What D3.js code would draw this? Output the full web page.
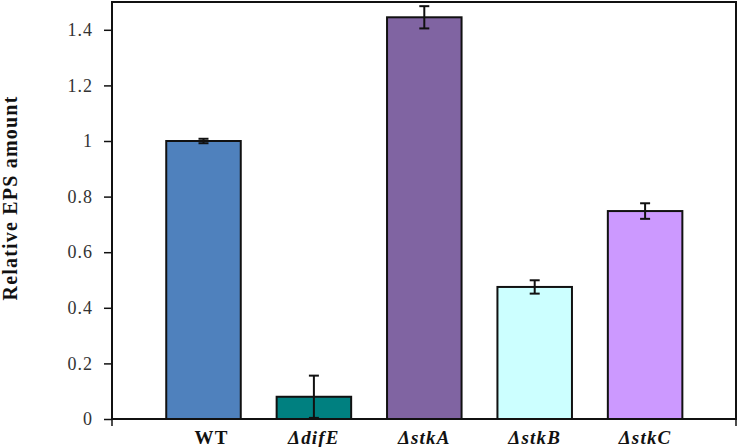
<!DOCTYPE html>
<html>
<head>
<meta charset="utf-8">
<script src="https://cdn.jsdelivr.net/npm/d3@7"></script>
<style>
  body { margin: 0; background: #fff; }
  svg { display: block; }
</style>
</head>
<body>
<div id="chart"></div>
<script>
// chart data
var strains = ["WT", "ΔdifE", "ΔstkA", "ΔstkB", "ΔstkC"];
var epsValues = [1.0, 0.08, 1.445, 0.475, 0.748];
var epsErrors = [0.008, 0.076, 0.04, 0.024, 0.028];
var barColors = ["#4f81bd", "#008080", "#8064a2", "#ccffff", "#cc99ff"];
var yTicks = [0, 0.2, 0.4, 0.6, 0.8, 1, 1.2, 1.4];

var svgWidth = 739;
var svgHeight = 447;

var plot = { left: 112, right: 736, top: 2, bottom: 419 };

var svg = d3.select("#chart")
  .append("svg")
  .attr("width", svgWidth)
  .attr("height", svgHeight);

var x = d3.scaleBand()
  .domain(strains)
  .range([148.3, 700.3])
  .paddingInner(0.325)
  .paddingOuter(0.1625);

var y = d3.scaleLinear()
  .domain([0, 1.5])
  .range([plot.bottom, plot.top]);

// bars
svg.append("g").selectAll("rect")
  .data(strains)
  .enter()
  .append("rect")
  .attr("x", d => x(d))
  .attr("y", (d, i) => y(epsValues[i]))
  .attr("width", x.bandwidth())
  .attr("height", (d, i) => y(0) - y(epsValues[i]))
  .attr("fill", (d, i) => barColors[i])
  .attr("stroke", "#111")
  .attr("stroke-width", 2);

// error bars
var errGroup = svg.append("g")
  .attr("stroke", "#111")
  .attr("stroke-width", 2);

strains.forEach(function(s, i) {
  var cx = x(s) + x.bandwidth() / 2;
  var hi = y(epsValues[i] + epsErrors[i]);
  var lo = y(Math.max(0, epsValues[i] - epsErrors[i]));
  errGroup.append("line")
    .attr("x1", cx).attr("x2", cx)
    .attr("y1", hi).attr("y2", i === 1 ? y(0) : lo);
  errGroup.append("line")
    .attr("x1", cx - 5).attr("x2", cx + 5)
    .attr("y1", hi).attr("y2", hi);
  errGroup.append("line")
    .attr("x1", cx - 5).attr("x2", cx + 5)
    .attr("y1", lo).attr("y2", lo);
});

// frame
svg.append("rect")
  .attr("x", plot.left)
  .attr("y", plot.top)
  .attr("width", plot.right - plot.left)
  .attr("height", plot.bottom - plot.top)
  .attr("fill", "none")
  .attr("stroke", "#111")
  .attr("stroke-width", 2);

// y axis
var leftAxis = d3.axisLeft(y)
  .tickValues(yTicks)
  .tickFormat(d3.format("~g"))
  .tickSize(8)
  .tickPadding(11);

var yAxis = svg.append("g")
  .attr("transform", `translate(${plot.left}, 0)`)
  .call(leftAxis);

yAxis.select(".domain").remove();
yAxis.selectAll(".tick line")
  .attr("stroke", "#111")
  .attr("stroke-width", 1.5);
yAxis.selectAll("text")
  .attr("font-family", "Liberation Serif, serif")
  .attr("font-size", 18)
  .attr("letter-spacing", 1)
  .attr("fill", "#333");

// small ticks at both ends of the x axis
[plot.left, plot.right].forEach(function(px) {
  svg.append("line")
    .attr("x1", px).attr("x2", px)
    .attr("y1", plot.bottom).attr("y2", plot.bottom + 7)
    .attr("stroke", "#111")
    .attr("stroke-width", 1.5);
});

// x labels
svg.append("g").selectAll("text")
  .data(strains)
  .enter()
  .append("text")
  .attr("x", d => x(d) + x.bandwidth() / 2 + (d === "WT" ? 8 : 0))
  .attr("y", 444)
  .attr("text-anchor", "middle")
  .attr("font-family", "Liberation Serif, serif")
  .attr("font-weight", "bold")
  .attr("font-style", d => d === "WT" ? "normal" : "italic")
  .attr("font-size", 19)
  .attr("letter-spacing", 1.2)
  .attr("fill", "#111")
  .text(d => d);

// y axis title
svg.append("text")
  .attr("transform", "translate(17, 198) rotate(-90)")
  .attr("text-anchor", "middle")
  .attr("font-family", "Liberation Serif, serif")
  .attr("font-weight", "bold")
  .attr("font-size", 20)
  .attr("letter-spacing", 1.2)
  .attr("fill", "#111")
  .text("Relative EPS amount");
</script>
</body>
</html>
